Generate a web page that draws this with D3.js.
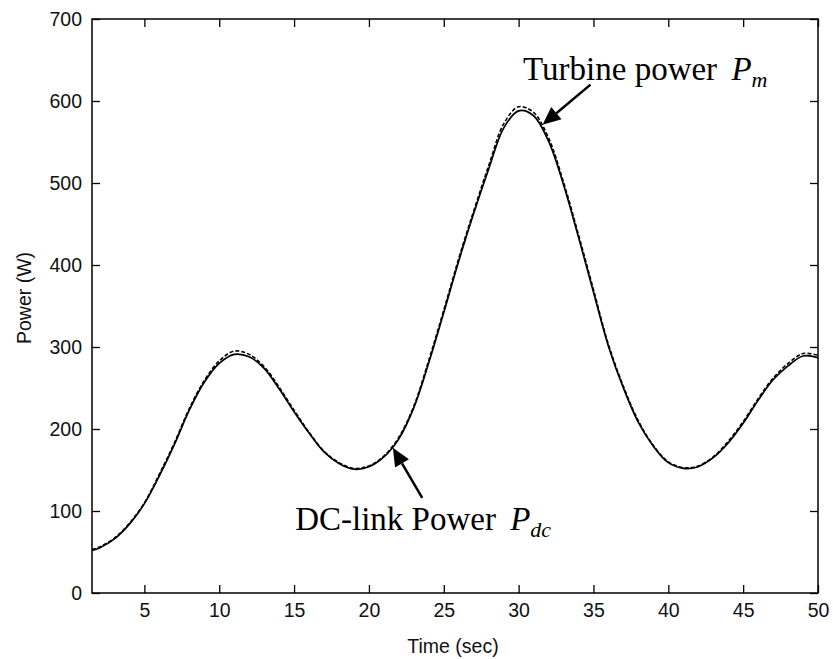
<!DOCTYPE html>
<html>
<head>
<meta charset="utf-8">
<script src="https://cdn.jsdelivr.net/npm/d3@7"></script>
<style>
  html, body { margin: 0; padding: 0; background: #fff; }
  svg { display: block; }
</style>
</head>
<body>
<svg id="chart" width="833" height="659"></svg>
<script>
// ---- data ----
const time = [1.5, 2, 3, 4, 5, 6, 7, 8, 9, 10, 11, 12, 13, 14, 15, 16, 17, 18, 19, 20,
  21, 22, 23, 24, 25, 26, 27, 28, 29, 30, 31, 32, 33, 34, 35, 36, 37, 38, 39, 40,
  41, 42, 43, 44, 45, 46, 47, 48, 49, 50];
const turbinePower = [53, 56, 67, 85, 110, 145, 183, 225, 259, 283, 295, 291, 276, 251, 223, 196, 173, 159, 152, 155,
  167, 190, 228, 284, 345, 408, 466, 521, 572, 593, 586, 555, 501, 437, 370, 303, 252, 210, 180, 160,
  153, 155, 166, 185, 209, 237, 262, 280, 292, 290];
const dcLinkPower = [52, 55, 66, 84, 109, 143, 181, 223, 257, 280, 291, 288, 274, 249, 221, 195, 172, 158, 151, 154,
  166, 188, 226, 281, 342, 405, 463, 517, 567, 588, 582, 551, 498, 434, 367, 301, 250, 208, 179, 159,
  152, 154, 165, 183, 207, 235, 260, 277, 289, 287];
const xTicks = [5, 10, 15, 20, 25, 30, 35, 40, 45, 50];
const yTicks = [0, 100, 200, 300, 400, 500, 600, 700];
const xLabel = "Time (sec)";
const yLabel = "Power (W)";
// annotations in data coordinates: text anchor, arrow tail, arrow tip
const annTurbine = { text: "Turbine power ", sym: "P", sub: "m", tx: 30.3, ty: 626, from: [34.8, 620], to: [31.6, 571] };
const annDC = { text: "DC-link Power ", sym: "P", sub: "dc", tx: 15.07, ty: 77, from: [23.56, 116], to: [21.6, 177] };

// ---- layout ----
const svg = d3.select("#chart");
const L = 92, R = 818, T = 19, B = 593;
const x = d3.scaleLinear().domain([1.5, 50]).range([L, R]);
const y = d3.scaleLinear().domain([0, 700]).range([B, T]);
const tickFont = "'Liberation Sans', Arial, sans-serif";

// frame
svg.append("rect").attr("x", L).attr("y", T).attr("width", R - L).attr("height", B - T)
  .attr("fill", "none").attr("stroke", "#000").attr("stroke-width", 1.5);

function styleAxis(g) {
  g.select(".domain").remove();
  g.selectAll("line").attr("stroke", "#000").attr("stroke-width", 1.3);
  g.selectAll("text").attr("font-family", tickFont).attr("font-size", 19.5).attr("fill", "#111");
}

svg.append("g").attr("transform", `translate(0,${B})`)
  .call(d3.axisBottom(x).tickValues(xTicks).tickSizeInner(-8).tickSizeOuter(0).tickPadding(10))
  .call(styleAxis);
svg.append("g").attr("transform", `translate(0,${T})`)
  .call(d3.axisTop(x).tickValues(xTicks).tickSizeInner(-8).tickSizeOuter(0).tickFormat(""))
  .call(styleAxis);
svg.append("g").attr("transform", `translate(${L},0)`)
  .call(d3.axisLeft(y).tickValues(yTicks).tickSizeInner(-8).tickSizeOuter(0).tickPadding(10))
  .call(styleAxis);
svg.append("g").attr("transform", `translate(${R},0)`)
  .call(d3.axisRight(y).tickValues(yTicks).tickSizeInner(-8).tickSizeOuter(0).tickFormat(""))
  .call(styleAxis);

// axis labels
svg.append("text").attr("x", (L + R) / 2 - 2).attr("y", 653).attr("text-anchor", "middle")
  .attr("font-family", tickFont).attr("font-size", 19.5).attr("fill", "#111").text(xLabel);
svg.append("text").attr("transform", `translate(31,${(T + B) / 2 - 8}) rotate(-90)`)
  .attr("text-anchor", "middle").attr("font-family", tickFont).attr("font-size", 19.5)
  .attr("fill", "#111").text(yLabel);

// curves
const line = d3.line().curve(d3.curveCatmullRom.alpha(0.5));
svg.append("clipPath").attr("id", "clip").append("rect")
  .attr("x", L).attr("y", T).attr("width", R - L).attr("height", B - T);
svg.append("path").attr("clip-path", "url(#clip)")
  .attr("d", line(time.map((t, i) => [x(t), y(dcLinkPower[i])])))
  .attr("fill", "none").attr("stroke", "#000").attr("stroke-width", 1.7);
svg.append("path").attr("clip-path", "url(#clip)")
  .attr("d", line(time.map((t, i) => [x(t), y(turbinePower[i])])))
  .attr("fill", "none").attr("stroke", "#000").attr("stroke-width", 1.6)
  .attr("stroke-dasharray", "4,2");

// annotations
const serif = "'Liberation Serif', 'Times New Roman', serif";
function annotate(a) {
  const t = svg.append("text").attr("x", x(a.tx)).attr("y", y(a.ty))
    .attr("font-family", serif).attr("font-size", 33).attr("fill", "#000");
  t.append("tspan").text(a.text).attr("xml:space", "preserve");
  t.append("tspan").attr("font-style", "italic").attr("dx", 6).text(a.sym);
  t.append("tspan").attr("font-style", "italic").attr("font-size", 22).attr("dy", 7).text(a.sub);

  const x1 = x(a.from[0]), y1 = y(a.from[1]), x2 = x(a.to[0]), y2 = y(a.to[1]);
  const ang = Math.atan2(y2 - y1, x2 - x1);
  const hl = 18, hw = 8;
  const bx = x2 - hl * Math.cos(ang), by = y2 - hl * Math.sin(ang);
  svg.append("line").attr("x1", x1).attr("y1", y1).attr("x2", bx).attr("y2", by)
    .attr("stroke", "#000").attr("stroke-width", 2.5);
  const px = -Math.sin(ang), py = Math.cos(ang);
  svg.append("path")
    .attr("d", `M${x2},${y2}L${bx + hw * px},${by + hw * py}L${bx - hw * px},${by - hw * py}Z`)
    .attr("fill", "#000");
}
annotate(annTurbine);
annotate(annDC);
</script>
</body>
</html>
